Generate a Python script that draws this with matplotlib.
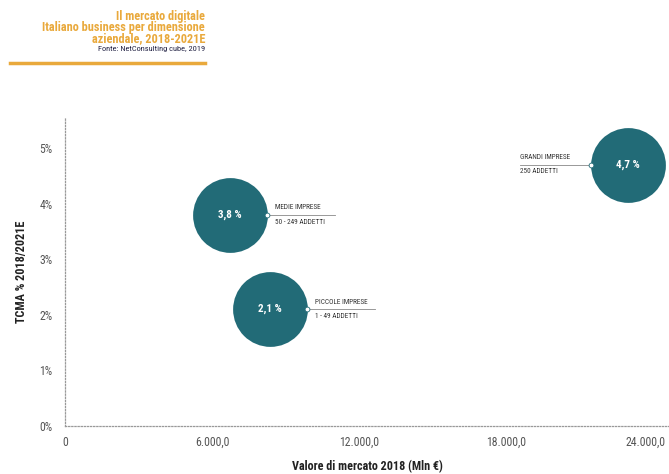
import matplotlib.pyplot as plt
from matplotlib import font_manager as fm
from matplotlib.transforms import ScaledTranslation

# Dati: valore di mercato 2018 (Mln €) e TCMA 2018/2021E (%)
segmenti = ["GRANDI IMPRESE", "MEDIE IMPRESE", "PICCOLE IMPRESE"]
addetti = ["250 ADDETTI", "50 - 249 ADDETTI", "1 - 49 ADDETTI"]
valore_mercato = [22980, 6735, 8370]
tcma = [4.7, 3.8, 2.1]
etichette = ["4,7 %", "3,8 %", "2,1 %"]

x_ticks = [0, 6000, 12000, 18000, 24000]
x_tick_labels = ["0", "6.000,0", "12.000,0", "18.000,0", "24.000,0"]
y_ticks = [0, 1, 2, 3, 4, 5]
y_tick_labels = ["0%", "1%", "2%", "3%", "4%", "5%"]

titolo = ["Il mercato digitale", "Italiano business per dimensione", "aziendale, 2018-2021E"]
fonte = "Fonte: NetConsulting cube, 2019"

teal = "#226b77"
orange = "#e9a93c"
grey = "#555555"

names = {f.name for f in fm.fontManager.ttflist}
narrow = "DejaVu Sans"
for cand in ["Liberation Sans Narrow", "Roboto Condensed", "DejaVu Sans Condensed", "Liberation Sans"]:
    if cand in names:
        narrow = cand
        break

fig = plt.figure(figsize=(6.69, 4.74), dpi=100)
ax = fig.add_axes([0.0972, 0.1013, 0.9028, 0.650])

ax.scatter(valore_mercato, tcma, s=2900, color=teal, zorder=3, clip_on=False,
           linewidths=0)

for i, (x, y) in enumerate(zip(valore_mercato, tcma)):
    ax.text(x, y, etichette[i], color="white", fontsize=8, fontweight="bold",
            ha="center", va="center", zorder=4, family=narrow)
    # punto bianco sul bordo e linea verso l'etichetta
    dx = -1500 if i == 0 else 1500
    lx1 = -4400 if i == 0 else 4300
    ax.scatter([x + dx], [y], s=12, color="white", edgecolors=teal,
               linewidths=0.6, zorder=5, clip_on=False)
    x0, x1 = sorted([x + dx, x + lx1])
    ax.plot([x0, x1], [y, y], color="#888888", lw=0.6, zorder=2, clip_on=False)
    tx = x + lx1 if i == 0 else x + dx + 350
    ax.text(tx, y + 0.06, segmenti[i], fontsize=5.2, color="#333333",
            family=narrow, ha="left", va="bottom")
    ax.text(tx, y - 0.07, addetti[i], fontsize=5.2, color="#333333",
            family=narrow, ha="left", va="top")

ax.set_xlim(0, 24650)
ax.set_ylim(0, 5.54)
ax.set_xticks(x_ticks)
ax.set_xticklabels(x_tick_labels, family=narrow, fontsize=8.5, color=grey)
ax.set_yticks(y_ticks)
ax.set_yticklabels(y_tick_labels, family=narrow, fontsize=8.5, color=grey)
ax.tick_params(axis="x", length=0, pad=7)
ax.tick_params(axis="y", length=0, pad=9)

# l'ultima etichetta dell'asse x resta dentro il bordo
last = ax.get_xticklabels()[-1]
last.set_transform(last.get_transform() + ScaledTranslation(-8 / 100, 0, fig.dpi_scale_trans))

for s in ["top", "right"]:
    ax.spines[s].set_visible(False)
for s in ["left", "bottom"]:
    ax.spines[s].set_linestyle((0, (1, 1.5)))
    ax.spines[s].set_color("#999999")
    ax.spines[s].set_linewidth(0.9)

ax.set_xlabel("Valore di mercato 2018 (Mln €)", family=narrow, fontsize=8.7,
              fontweight="bold", color="#222222", labelpad=8)
ax.set_ylabel("TCMA % 2018/2021E", family=narrow, fontsize=8.7,
              fontweight="bold", color="#222222", labelpad=8)

# Titolo in alto a sinistra
fig.text(205 / 669, 1 - 10 / 474, "\n".join(titolo), ha="right", va="top",
         fontsize=8.8, fontweight="bold", color=orange, family=narrow,
         linespacing=0.8)
fig.text(205 / 669, 1 - 46 / 474, fonte, ha="right", va="top",
         fontsize=6, color="#222244", family=narrow)
fig.add_artist(plt.Line2D([10 / 669, 205 / 669], [1 - 63 / 474, 1 - 63 / 474],
                          color=orange, lw=2.5, transform=fig.transFigure))

fig.savefig("out.png", dpi=100)
